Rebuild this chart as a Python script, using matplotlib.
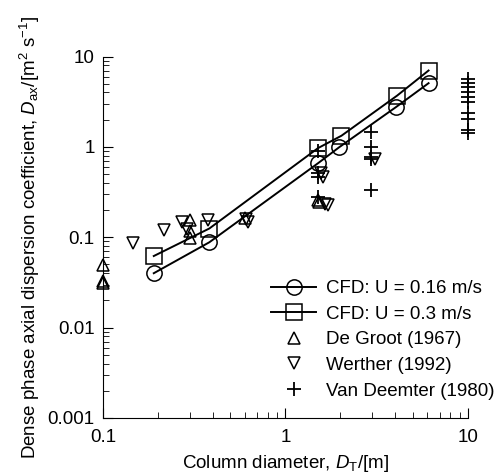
import matplotlib
matplotlib.use("Agg")
import matplotlib.pyplot as plt
from matplotlib.ticker import LogLocator, FuncFormatter, NullFormatter

plt.rcParams['font.family'] = ['Liberation Sans', 'DejaVu Sans']
plt.rcParams['mathtext.fontset'] = 'custom'
plt.rcParams['mathtext.rm'] = 'Liberation Sans'
plt.rcParams['mathtext.it'] = 'Liberation Sans:italic'

# CFD results
cfd1_x = [0.19, 0.383, 1.51, 1.97, 4.03, 6.09]
cfd1_y = [0.040, 0.088, 0.66, 0.99, 2.75, 5.07]
cfd2_x = [0.19, 0.383, 1.51, 2.03, 4.1, 6.09]
cfd2_y = [0.062, 0.125, 0.97, 1.33, 3.7, 7.0]

# literature data
groot_x = [0.1, 0.1, 0.1, 0.3, 0.3, 0.3, 0.6, 1.5, 1.52]
groot_y = [0.049, 0.031, 0.033, 0.156, 0.117, 0.098, 0.165, 0.26, 0.245]

werther_x = [0.147, 0.216, 0.272, 0.29, 0.377, 0.61, 0.62, 1.57, 1.6, 1.64, 1.72, 3.09]
werther_y = [0.086, 0.121, 0.149, 0.122, 0.155, 0.16, 0.148, 0.51, 0.47, 0.235, 0.225, 0.73]

deemter_x = [1.5, 1.5, 1.5, 1.5, 2.93, 2.93, 2.93, 2.93, 2.93,
             10, 10, 10, 10, 10, 10, 10, 10, 10, 10]
deemter_y = [0.9, 0.52, 0.47, 0.28, 1.48, 1.0, 0.78, 0.73, 0.33,
             5.66, 5.08, 4.58, 4.1, 3.61, 3.1, 2.36, 2.03, 1.55, 1.42]

fig = plt.figure(figsize=(5.02, 4.75), dpi=100)
ax = fig.add_axes([0.205, 0.12, 0.727, 0.761])

ax.plot(cfd1_x, cfd1_y, '-o', color='black', lw=1.4, ms=11, mfc='none', mew=1.1,
        label='CFD: U = 0.16 m/s')
ax.plot(cfd2_x, cfd2_y, '-s', color='black', lw=1.4, ms=11.5, mfc='none', mew=1.1,
        label='CFD: U = 0.3 m/s')
ax.plot(groot_x, groot_y, '^', color='black', ms=8.5, mfc='none', mew=1.1, ls='none',
        clip_on=False, label='De Groot (1967)')
ax.plot(werther_x, werther_y, 'v', color='black', ms=8.5, mfc='none', mew=1.1, ls='none',
        clip_on=False, label='Werther (1992)')
ax.plot(deemter_x, deemter_y, '+', color='black', ms=10, mew=1.3, ls='none',
        clip_on=False, label='Van Deemter (1980)')

ax.set_xscale('log')
ax.set_yscale('log')
ax.set_xlim(0.1, 10)
ax.set_ylim(0.001, 10)

for s in ['top', 'right']:
    ax.spines[s].set_visible(False)

fmt = FuncFormatter(lambda v, p: '%g' % v)
ax.xaxis.set_major_formatter(fmt)
ax.yaxis.set_major_formatter(fmt)
ax.xaxis.set_minor_locator(LogLocator(base=10, subs=range(2, 10)))
ax.yaxis.set_minor_locator(LogLocator(base=10, subs=range(2, 10)))
ax.xaxis.set_minor_formatter(NullFormatter())
ax.yaxis.set_minor_formatter(NullFormatter())
ax.tick_params(which='both', direction='in', labelsize=13.5)
ax.tick_params(which='major', length=7)
ax.tick_params(which='minor', length=4)
ax.tick_params(axis='x', pad=8)
ax.tick_params(axis='y', pad=6)

ax.set_xlabel(r'Column diameter, $\mathit{D}_\mathrm{T}$/[m]', fontsize=13.5, labelpad=5)
ax.set_ylabel(r'Dense phase axial dispersion coefficient, $\mathit{D}_\mathrm{ax}$/[m$^2$ s$^{-1}$]',
              fontsize=13.5, labelpad=4)

ax.legend(loc='lower left', bbox_to_anchor=(0.435, 0.025), frameon=False,
          fontsize=13.5, borderpad=0, handlelength=2.4, handletextpad=0.55,
          labelspacing=0.45)

fig.savefig('out.png', dpi=100)
